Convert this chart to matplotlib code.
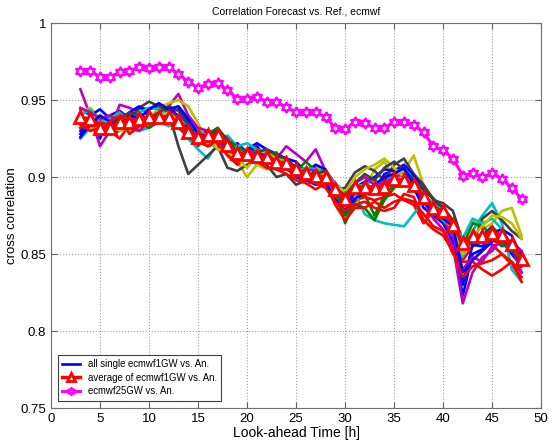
import numpy as np
import matplotlib
matplotlib.use('Agg')
import matplotlib.pyplot as plt
from matplotlib.path import Path

plt.rcParams['font.family'] = ['Liberation Sans', 'DejaVu Sans']

hours = np.arange(3, 49)

# single ecmwf1GW members vs. analysis
members = [
    ('#0000ff', [.928, .935, .925, .940, .943, .938, .945, .944, .946, .944,
                 .940, .932, .930, .924, .925, .918, .922, .916, .920, .912,
                 .905, .910, .903, .900, .897, .901, .887, .878, .890, .893,
                 .889, .902, .904, .900, .893, .880, .875, .870, .858, .823,
                 .850, .853, .860, .858, .850, .842]),
    ('#008000', [.944, .940, .934, .932, .938, .934, .940, .942, .938, .936,
                 .938, .928, .928, .930, .926, .923, .918, .915, .918, .916,
                 .912, .910, .907, .904, .906, .903, .890, .870, .884, .889,
                 .875, .888, .895, .896, .902, .888, .878, .876, .868, .852,
                 .858, .862, .860, .855, .857, .848]),
    ('#ff0000', [.936, .932, .928, .930, .925, .934, .937, .935, .940, .945,
                 .937, .925, .920, .930, .928, .918, .915, .912, .912, .910,
                 .913, .908, .900, .902, .898, .896, .888, .882, .885, .887,
                 .885, .887, .889, .885, .882, .870, .878, .872, .862, .846,
                 .855, .858, .856, .850, .843, .835]),
    ('#00bfbf', [.925, .932, .935, .928, .934, .938, .930, .932, .936, .933,
                 .935, .925, .918, .912, .922, .927, .920, .913, .908, .912,
                 .908, .905, .906, .900, .903, .895, .890, .884, .890, .876,
                 .872, .870, .869, .868, .876, .884, .880, .872, .866, .848,
                 .865, .875, .883, .870, .840, .832]),
    ('#bf00bf', [.957, .940, .920, .930, .947, .945, .942, .934, .940, .946,
                 .954, .940, .932, .928, .924, .920, .912, .918, .915, .917,
                 .912, .920, .915, .910, .918, .904, .896, .883, .892, .896,
                 .892, .898, .903, .905, .897, .884, .873, .866, .855, .818,
                 .838, .848, .852, .860, .858, .852]),
    ('#bfbf00', [.942, .945, .938, .935, .934, .930, .930, .938, .945, .948,
                 .950, .946, .935, .922, .925, .915, .910, .900, .908, .905,
                 .908, .913, .905, .903, .908, .899, .895, .888, .895, .892,
                 .905, .910, .900, .904, .914, .895, .886, .880, .872, .860,
                 .872, .866, .870, .878, .880, .862]),
    ('#404040', [.936, .930, .938, .928, .930, .934, .945, .949, .946, .942,
                 .920, .902, .908, .914, .920, .906, .904, .908, .912, .908,
                 .900, .902, .895, .898, .905, .900, .892, .893, .903, .907,
                 .904, .898, .908, .912, .902, .895, .885, .883, .878, .858,
                 .856, .873, .878, .872, .865, .860]),
    ('#0000ff', [.930, .940, .944, .938, .934, .942, .946, .940, .938, .942,
                 .944, .936, .930, .925, .930, .922, .912, .918, .922, .918,
                 .915, .912, .910, .903, .908, .905, .893, .876, .893, .897,
                 .900, .905, .904, .908, .901, .892, .886, .876, .865, .830,
                 .856, .855, .864, .866, .862, .848]),
    ('#008000', [.932, .936, .938, .930, .936, .940, .935, .932, .936, .940,
                 .934, .926, .922, .928, .932, .924, .920, .916, .912, .914,
                 .916, .906, .904, .910, .904, .898, .893, .875, .882, .880,
                 .872, .885, .893, .897, .898, .886, .881, .876, .870, .855,
                 .870, .868, .862, .856, .858, .845]),
    ('#ff0000', [.932, .938, .935, .940, .938, .928, .933, .938, .942, .938,
                 .932, .926, .924, .920, .922, .914, .908, .912, .910, .906,
                 .905, .902, .898, .896, .892, .896, .882, .872, .880, .880,
                 .884, .880, .884, .886, .884, .876, .868, .865, .850, .845,
                 .845, .840, .836, .840, .845, .838]),
    ('#00bfbf', [.940, .944, .936, .938, .942, .936, .942, .945, .944, .940,
                 .938, .934, .930, .924, .918, .916, .920, .922, .918, .915,
                 .912, .908, .904, .906, .905, .902, .896, .890, .894, .895,
                 .898, .895, .902, .906, .898, .888, .883, .878, .870, .860,
                 .873, .870, .873, .866, .855, .848]),
    ('#bf00bf', [.945, .942, .938, .940, .936, .932, .930, .936, .940, .936,
                 .940, .935, .932, .930, .922, .918, .912, .914, .910, .915,
                 .910, .905, .902, .905, .904, .898, .892, .888, .896, .900,
                 .895, .896, .900, .902, .895, .885, .882, .876, .862, .840,
                 .848, .845, .855, .858, .854, .838]),
    ('#bfbf00', [.935, .932, .930, .936, .930, .932, .935, .936, .940, .942,
                 .936, .930, .926, .928, .918, .916, .912, .906, .914, .918,
                 .912, .910, .906, .902, .900, .903, .895, .890, .900, .905,
                 .908, .912, .906, .900, .895, .888, .880, .874, .866, .850,
                 .862, .868, .875, .874, .870, .860]),
    ('#404040', [.938, .936, .932, .934, .938, .942, .940, .938, .942, .946,
                 .943, .934, .925, .928, .930, .925, .915, .912, .916, .918,
                 .914, .912, .906, .900, .902, .904, .893, .888, .896, .902,
                 .898, .906, .910, .905, .898, .893, .886, .880, .872, .854,
                 .860, .862, .868, .860, .852, .844]),
    ('#0000ff', [.926, .934, .940, .936, .932, .940, .938, .944, .948, .944,
                 .946, .938, .928, .926, .925, .918, .916, .911, .916, .913,
                 .910, .906, .900, .898, .895, .897, .885, .878, .886, .890,
                 .895, .900, .902, .906, .895, .885, .876, .873, .868, .838,
                 .846, .852, .858, .862, .856, .850]),
    ('#ff0000', [.934, .930, .932, .936, .940, .938, .935, .940, .938, .936,
                 .938, .930, .923, .920, .924, .914, .910, .913, .915, .912,
                 .905, .908, .902, .900, .896, .893, .884, .878, .882, .884,
                 .880, .878, .880, .889, .887, .872, .866, .862, .852, .835,
                 .842, .844, .846, .850, .845, .832]),
]

# average of the members
avg_1gw = [.939, .9375, .932, .932, .936, .936, .938, .939, .939, .939,
           .936, .929, .926, .927, .927, .921, .9155, .915, .914, .913,
           .910, .909, .905, .9025, .901, .900, .892, .886, .8935, .8935,
           .893, .8935, .899, .898, .895, .887, .880, .878, .869, .857,
           .862, .862, .8635, .8625, .8565, .8465]

# ecmwf25GW vs. analysis
ec25 = [.969, .969, .965, .965, .968, .969, .9715, .971, .9715, .9715,
        .967, .962, .958, .9605, .961, .9565, .951, .9505, .952, .949,
        .9485, .9455, .942, .942, .942, .939, .932, .931, .936, .935,
        .932, .932, .936, .936, .934, .929, .920, .9175, .912, .901,
        .9025, .900, .9025, .899, .893, .886]

# six-pointed star marker
ang = np.pi / 2 + np.arange(12) * np.pi / 6
rad = np.where(np.arange(12) % 2 == 0, 1.0, 0.58)
verts = np.column_stack([rad * np.cos(ang), rad * np.sin(ang)])
verts = np.vstack([verts, verts[:1]])
hexagram = Path(verts, [Path.MOVETO] + [Path.LINETO] * 11 + [Path.CLOSEPOLY])

fig = plt.figure(figsize=(5.52, 4.46), dpi=100)
ax = fig.add_axes([0.0924, 0.0852, 0.888, 0.863])

for i, (col, vals) in enumerate(members):
    ax.plot(hours, vals, color=col, lw=1.9,
            label='all single ecmwf1GW vs. An.' if i == 0 else None)

ax.plot(hours, avg_1gw, color='#ff0000', lw=2.5, marker='^', markersize=8,
        markerfacecolor='white', markeredgecolor='#ff0000', markeredgewidth=2,
        label='average of ecmwf1GW vs. An.')
ax.plot(hours, ec25, color='#ff00ff', lw=2.2, marker=hexagram, markersize=7,
        markerfacecolor='white', markeredgecolor='#ff00ff', markeredgewidth=1.8,
        label='ecmwf25GW vs. An.')

ax.set_xlim(0, 50)
ax.set_ylim(0.75, 1)
ax.set_xticks(np.arange(0, 51, 5))
ax.set_yticks([0.75, 0.8, 0.85, 0.9, 0.95, 1])
ax.set_yticklabels(['0.75', '0.8', '0.85', '0.9', '0.95', '1'])
ax.grid(True, linestyle=':', color='#a0a0a0', lw=0.8)
ax.tick_params(direction='in', length=4, top=True, right=True, labelsize=9.5,
               color='#606060')
for sp in ax.spines.values():
    sp.set_color('#707070')

ax.set_title('Correlation Forecast vs. Ref., ecmwf', fontsize=7.5, pad=6)
ax.set_xlabel('Look-ahead Time [h]', fontsize=10, labelpad=1)
ax.set_ylabel('cross correlation', fontsize=9.5, labelpad=2)

leg = ax.legend(loc='lower left', bbox_to_anchor=(0.008, 0.012), fontsize=6.9,
                fancybox=False, framealpha=1, edgecolor='#404040',
                handlelength=1.9, borderpad=0.45, labelspacing=0.35,
                borderaxespad=0.3, markerscale=0.7)
leg.get_frame().set_linewidth(0.8)

fig.savefig('out.png', dpi=100)
